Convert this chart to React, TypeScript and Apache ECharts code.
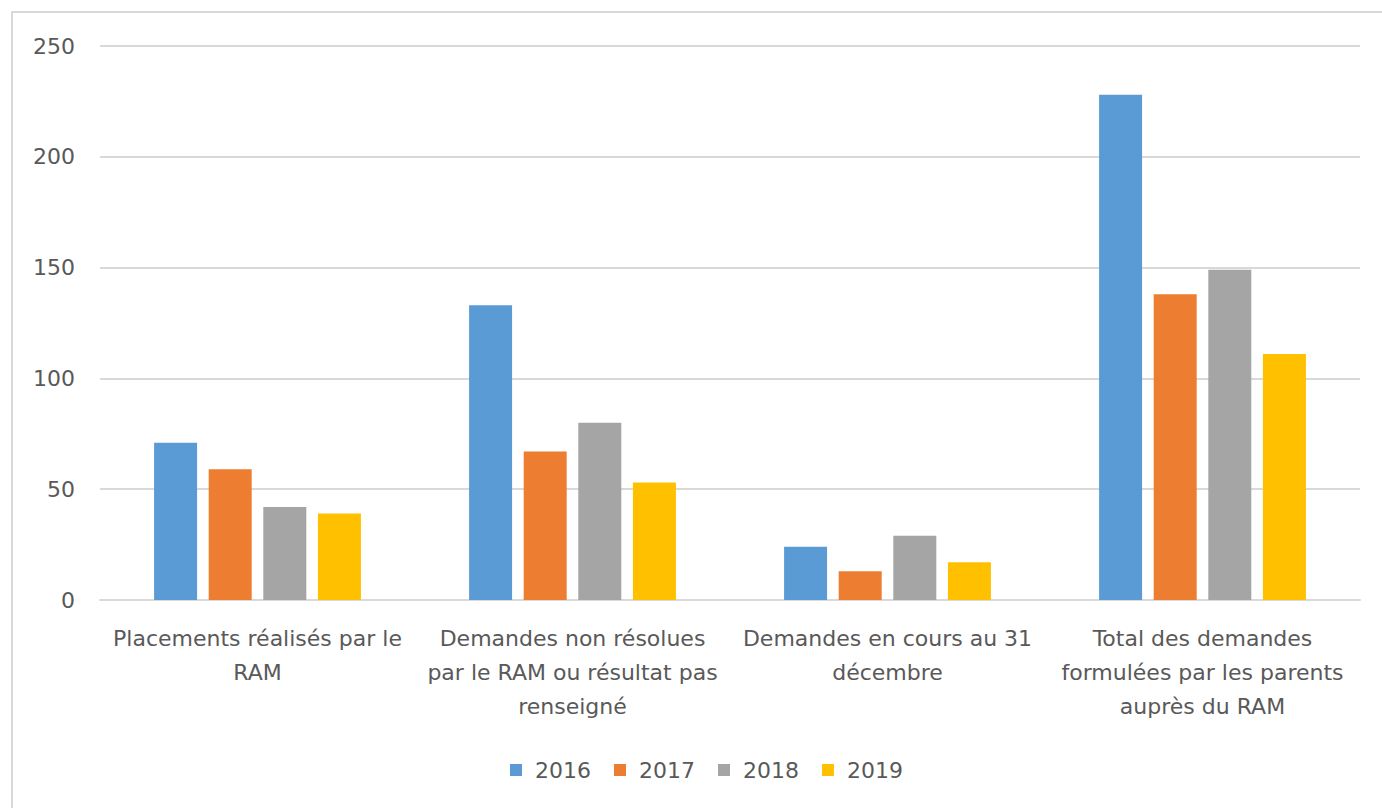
import React, { useEffect, useRef } from "react";
import * as echarts from "echarts";

const categories = [
  "Placements réalisés par le\nRAM",
  "Demandes non résolues\npar le RAM ou résultat pas\nrenseigné",
  "Demandes en cours au 31\ndécembre",
  "Total des demandes\nformulées par les parents\nauprès du RAM",
];
const years = ["2016", "2017", "2018", "2019"];
const values2016 = [71, 133, 24, 228];
const values2017 = [59, 67, 13, 138];
const values2018 = [42, 80, 29, 149];
const values2019 = [39, 53, 17, 111];
const colors = ["#5B9BD5", "#ED7D31", "#A5A5A5", "#FFC000"];

export default function App() {
  const ref = useRef<HTMLDivElement>(null);
  useEffect(() => {
    if (!ref.current) return;
    const chart = echarts.init(ref.current, undefined, { renderer: "svg" });
    const font = "'DejaVu Sans', 'Liberation Sans', sans-serif";
    const allValues = [values2016, values2017, values2018, values2019];
    chart.setOption({
      animation: false,
      backgroundColor: "#ffffff",
      textStyle: { fontFamily: font },
      graphic: [
        {
          type: "rect",
          shape: { x: 12, y: 12, width: 1500, height: 900 },
          style: { fill: "none", stroke: "#d9d9d9", lineWidth: 2 },
          silent: true,
        },
      ],
      grid: { left: 100, right: 22, top: 46, bottom: 208 },
      legend: {
        top: 754,
        left: 505,
        itemWidth: 12,
        itemHeight: 12,
        itemGap: 23,
        icon: "rect",
        textStyle: {
          fontSize: 22,
          color: "#595959",
          fontFamily: font,
          padding: [0, 0, 0, 8],
        },
        data: years,
      },
      xAxis: {
        type: "category",
        data: categories,
        axisTick: { show: false },
        axisLine: { lineStyle: { color: "#d9d9d9", width: 2 } },
        axisLabel: {
          interval: 0,
          margin: 21,
          fontSize: 22,
          lineHeight: 34,
          color: "#595959",
          fontFamily: font,
        },
      },
      yAxis: {
        type: "value",
        min: 0,
        max: 250,
        interval: 50,
        axisLine: { show: false },
        axisTick: { show: false },
        splitLine: { lineStyle: { color: "#d9d9d9", width: 2 } },
        axisLabel: { fontSize: 22, color: "#595959", margin: 25, fontFamily: font },
      },
      series: years.map((y, i) => ({
        name: y,
        type: "bar",
        data: allValues[i],
        barWidth: 43,
        barGap: "27%",
        itemStyle: { color: colors[i] },
      })),
    });
    return () => chart.dispose();
  }, []);
  return (
    <div
      ref={ref}
      style={{ position: "fixed", left: 0, top: 0, width: 1382, height: 808 }}
    />
  );
}
